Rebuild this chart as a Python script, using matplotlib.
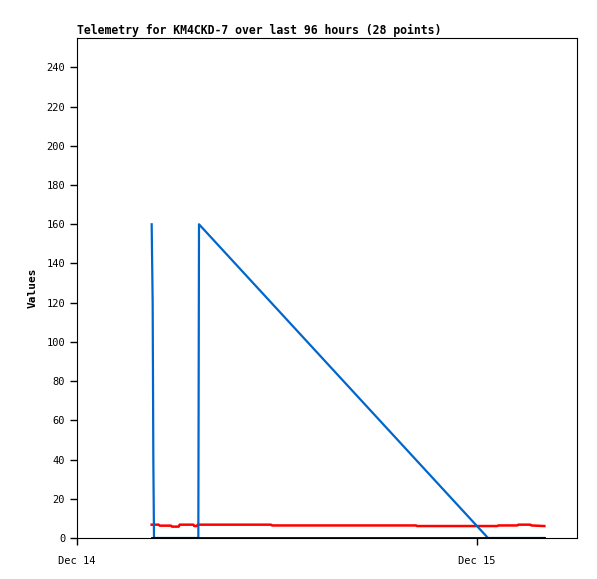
import datetime as dt
import matplotlib
matplotlib.use("Agg")
import matplotlib.pyplot as plt
import matplotlib.dates as mdates

base = dt.datetime(2023, 12, 14)

# hours since Dec 14 00:00
blue_t = [4.48, 4.54, 4.58, 4.62, 7.28, 7.32, 24.66, 28.04]
blue_v = [160, 120, 40, 0, 0, 160, 0, 0]

red_t = [4.48, 4.90, 4.96, 5.64, 5.70, 6.10, 6.16, 6.98, 7.04, 7.18, 7.24,
         11.64, 11.70, 20.34, 20.40, 25.22, 25.28, 26.42, 26.48, 27.20, 27.26, 28.04]
red_v = [6.8, 6.8, 6.3, 6.3, 5.8, 5.8, 6.8, 6.8, 6.1, 6.1, 6.8,
         6.8, 6.4, 6.4, 6.1, 6.1, 6.4, 6.4, 6.8, 6.8, 6.4, 6.1]

black_t = [4.48, 28.04]
black_v = [0, 0]


def to_dates(hours):
    return [base + dt.timedelta(hours=h) for h in hours]


plt.rcParams['font.family'] = 'DejaVu Sans Mono'

fig = plt.figure(figsize=(5.97, 5.79), dpi=100)
ax = fig.add_axes([77 / 597, 41 / 579, 500 / 597, 500 / 579])

ax.plot(to_dates(red_t), red_v, color='#ff0000', lw=1.8)
ax.plot(to_dates(blue_t), blue_v, color='#0066cc', lw=1.6)
ax.plot(to_dates(black_t), black_v, color='black', lw=2, zorder=3)

ax.set_xlim(base, base + dt.timedelta(hours=30))
ax.set_ylim(0, 255)
ax.set_yticks(range(0, 241, 20))
ax.xaxis.set_major_locator(mdates.DayLocator())
ax.xaxis.set_major_formatter(mdates.DateFormatter('%b %d'))

ax.tick_params(direction='out', length=5, width=1, labelsize=7.5, colors='black')
ax.tick_params(axis='x', pad=8)
for s in ax.spines.values():
    s.set_linewidth(0.8)

ax.set_ylabel('Values', fontsize=8, fontweight='bold', labelpad=6)
ax.set_title('Telemetry for KM4CKD-7 over last 96 hours (28 points)',
             loc='left', fontsize=8.3, fontweight='bold', pad=3)

fig.savefig('out.png', dpi=100)
